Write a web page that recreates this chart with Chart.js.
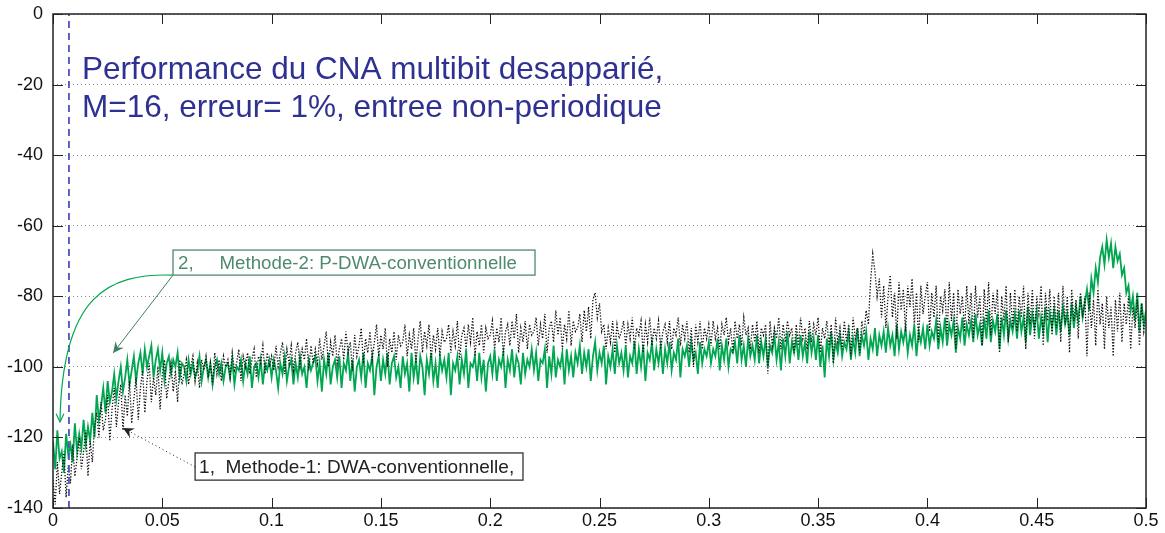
<!DOCTYPE html>
<html>
<head>
<meta charset="utf-8">
<script src="https://cdn.jsdelivr.net/npm/chart.js@4.4.1/dist/chart.umd.min.js"></script>
<style>
  html, body { margin: 0; padding: 0; background: #fff; }
  #wrap { width: 1165px; height: 533px; }
</style>
</head>
<body>
<div id="wrap"><canvas id="psd"></canvas></div>
<script>
// normalised frequency grid (fs = 1), one sample every 0.001
const FREQ_STEP = 0.001;

// Methode-1 : DWA conventionnelle (dB), 20 bins per row
const dwaConv = [
  -132,-139,-127,-136,-130,-124,-137,-128,-133,-122,-131,-126,-120,-129,-124,-118,-131,-121,-127,-117,
  -113,-120,-110,-118,-115,-108,-121,-112,-106,-117,-110,-105,-118,-108,-114,-104,-116,-109,-103,-115,
  -106,-101,-113,-104,-99,-110,-103,-108,-100,-112,-102,-98,-109,-104,-99,-107,-101,-110,-98,-105,
  -102,-98,-105,-100,-97,-104,-99,-106,-98,-101,-97,-103,-99,-105,-96,-102,-98,-104,-97,-100,
  -98,-103,-96,-101,-99,-95,-104,-97,-100,-96,-102,-98,-95,-103,-97,-99,-94,-102,-96,-100,
  -97,-101,-94,-100,-96,-93,-102,-95,-99,-94,-101,-96,-93,-100,-95,-98,-92,-101,-94,-99,
  -95,-99,-92,-98,-94,-90,-100,-93,-97,-91,-99,-95,-92,-98,-90,-96,-93,-101,-91,-97,
  -94,-89,-99,-92,-96,-90,-98,-93,-88,-97,-91,-95,-89,-100,-92,-96,-90,-98,-91,-94,
  -93,-88,-97,-91,-95,-89,-99,-92,-87,-96,-90,-94,-88,-98,-91,-95,-89,-97,-90,-93,
  -92,-88,-96,-90,-94,-87,-98,-91,-89,-95,-88,-93,-86,-97,-90,-94,-88,-96,-89,-92,
  -91,-87,-95,-89,-93,-86,-97,-90,-88,-94,-87,-92,-85,-96,-89,-93,-87,-95,-88,-91,
  -90,-86,-94,-88,-92,-85,-96,-89,-87,-93,-84,-91,-86,-95,-88,-92,-84,-94,-87,-90,
  -89,-85,-93,-84,-90,-83,-92,-81,-79,-86,-82,-90,-88,-95,-89,-93,-87,-96,-88,-92,
  -90,-87,-94,-88,-92,-86,-95,-89,-91,-87,-96,-88,-93,-86,-94,-89,-92,-87,-95,-90,
  -88,-93,-87,-95,-89,-91,-86,-94,-88,-92,-87,-96,-89,-100,-88,-93,-87,-95,-89,-92,
  -88,-94,-87,-92,-89,-95,-88,-91,-86,-93,-89,-96,-87,-92,-88,-94,-86,-91,-89,-95,
  -88,-93,-87,-96,-89,-91,-88,-102,-87,-94,-89,-92,-86,-95,-88,-93,-87,-91,-89,-96,
  -88,-94,-86,-92,-89,-95,-87,-93,-88,-91,-86,-96,-89,-92,-87,-94,-88,-99,-86,-93,
  -89,-95,-87,-93,-88,-97,-86,-92,-89,-96,-87,-91,-84,-88,-76,-68,-73,-80,-75,-86,
  -77,-89,-80,-74,-86,-79,-92,-76,-84,-78,-90,-77,-83,-75,-88,-79,-93,-77,-85,-80,
  -76,-90,-79,-86,-77,-93,-80,-84,-78,-91,-76,-87,-79,-95,-78,-85,-80,-90,-77,-88,
  -79,-92,-77,-86,-80,-94,-78,-88,-76,-91,-79,-85,-78,-96,-80,-87,-77,-93,-79,-89,
  -78,-90,-80,-86,-77,-95,-79,-88,-78,-92,-80,-85,-77,-94,-79,-87,-78,-91,-80,-89,
  -79,-93,-77,-88,-80,-96,-78,-87,-81,-92,-79,-86,-80,-97,-79,-89,-81,-94,-78,-88,
  -82,-95,-80,-89,-83,-97,-81,-90,-79,-93,-82,-88,-80,-95,-83,-89,-81,-94,-82,-90,
  -86
];

// Methode-2 : P-DWA conventionnelle (dB), 20 bins per row
const pdwaConv = [
  -121,-129,-118,-126,-124,-130,-119,-125,-122,-127,-116,-124,-119,-123,-115,-122,-117,-121,-113,-120,
  -108,-115,-111,-106,-113,-104,-110,-107,-102,-109,-104,-100,-107,-103,-98,-105,-101,-97,-104,-99,
  -96,-102,-95,-100,-97,-94,-103,-98,-95,-101,-96,-104,-99,-97,-102,-98,-100,-96,-103,-99,
  -100,-104,-98,-102,-99,-103,-101,-97,-104,-100,-98,-103,-99,-105,-100,-98,-102,-99,-104,-100,
  -99,-103,-98,-105,-100,-101,-98,-104,-99,-102,-97,-106,-100,-99,-103,-98,-105,-99,-101,-98,
  -103,-98,-101,-106,-99,-102,-97,-104,-100,-98,-105,-99,-103,-97,-102,-100,-106,-98,-101,-99,
  -97,-104,-99,-107,-98,-102,-96,-105,-100,-98,-103,-97,-106,-99,-101,-96,-104,-98,-107,-100,
  -98,-103,-96,-106,-99,-101,-97,-108,-100,-97,-104,-98,-102,-96,-105,-99,-97,-103,-100,-106,
  -97,-102,-99,-107,-96,-103,-98,-105,-97,-100,-108,-98,-102,-96,-104,-99,-106,-97,-101,-98,
  -103,-96,-108,-99,-101,-97,-105,-98,-102,-95,-106,-99,-100,-97,-104,-96,-103,-98,-107,-99,
  -97,-102,-95,-104,-98,-100,-96,-106,-98,-101,-95,-103,-97,-99,-105,-96,-102,-98,-100,-95,
  -101,-96,-104,-98,-99,-95,-106,-97,-102,-94,-103,-98,-100,-96,-105,-95,-101,-97,-103,-96,
  -99,-94,-102,-96,-100,-95,-104,-97,-93,-101,-96,-99,-94,-105,-97,-100,-95,-102,-94,-99,
  -96,-101,-94,-103,-97,-99,-93,-102,-95,-100,-94,-104,-96,-98,-93,-101,-95,-99,-94,-102,
  -95,-99,-93,-101,-96,-98,-92,-103,-95,-97,-94,-100,-93,-98,-96,-102,-93,-99,-95,-97,
  -93,-99,-95,-97,-92,-101,-94,-98,-92,-100,-95,-96,-93,-99,-91,-98,-94,-100,-92,-97,
  -94,-98,-91,-99,-93,-97,-92,-100,-94,-96,-91,-98,-93,-101,-92,-97,-90,-99,-93,-96,
  -92,-98,-91,-97,-93,-99,-90,-96,-92,-98,-91,-100,-94,-103,-92,-97,-90,-98,-93,-96,
  -91,-97,-93,-95,-90,-98,-92,-96,-89,-97,-91,-94,-90,-98,-92,-95,-89,-97,-91,-94,
  -90,-96,-89,-94,-91,-97,-88,-95,-90,-93,-89,-96,-91,-94,-88,-97,-90,-93,-89,-95,
  -88,-94,-90,-92,-87,-95,-89,-93,-86,-94,-88,-91,-87,-96,-89,-92,-86,-94,-88,-91,
  -87,-93,-85,-91,-88,-94,-86,-92,-84,-93,-87,-90,-85,-95,-86,-91,-84,-92,-87,-90,
  -85,-92,-84,-90,-86,-93,-83,-91,-85,-89,-84,-92,-86,-90,-83,-93,-85,-89,-84,-91,
  -84,-90,-83,-88,-85,-91,-82,-89,-83,-87,-80,-86,-82,-78,-84,-75,-79,-72,-76,-69,
  -66,-71,-64,-69,-65,-72,-66,-70,-68,-74,-72,-79,-77,-84,-80,-87,-79,-90,-82,-88,
  -84
];

// band edge marker (dashed vertical)
const bandEdge = 0.0073;

const xTicks = [0, 0.05, 0.1, 0.15, 0.2, 0.25, 0.3, 0.35, 0.4, 0.45, 0.5];
const yTicks = [0, -20, -40, -60, -80, -100, -120, -140];

const titleLines = [
  "Performance du CNA multibit desapparié,",
  "M=16, erreur= 1%, entree non-periodique"
];
const label1 = "1,  Methode-1: DWA-conventionnelle,";
const label2 = "2,     Methode-2: P-DWA-conventionnelle";

const toPoints = (arr) => arr.map((v, i) => ({ x: +(i * FREQ_STEP).toFixed(4), y: v }));

const FONT = "'Liberation Sans', Arial, Helvetica, sans-serif";

// arrow head helper
function arrowHead(ctx, fromX, fromY, toX, toY, size, filled) {
  const a = Math.atan2(toY - fromY, toX - fromX);
  const s = 0.45;
  ctx.beginPath();
  ctx.moveTo(toX - size * Math.cos(a - s), toY - size * Math.sin(a - s));
  ctx.lineTo(toX, toY);
  ctx.lineTo(toX - size * Math.cos(a + s), toY - size * Math.sin(a + s));
  if (filled) {
    ctx.lineTo(toX - size * 0.6 * Math.cos(a), toY - size * 0.6 * Math.sin(a));
    ctx.closePath();
    ctx.fill();
  } else {
    ctx.stroke();
  }
}

// frame, inward ticks, title and the two labelled arrows
const decorations = {
  id: "decorations",
  afterDatasetsDraw(chart) {
    const { ctx, chartArea: ca, scales } = chart;
    const px = (v) => scales.x.getPixelForValue(v);
    const py = (v) => scales.y.getPixelForValue(v);
    ctx.save();

    // frame
    ctx.strokeStyle = "#222";
    ctx.lineWidth = 1.5;
    ctx.setLineDash([]);
    ctx.strokeRect(ca.left, ca.top, ca.right - ca.left, ca.bottom - ca.top);

    // inward ticks
    ctx.lineWidth = 1;
    ctx.beginPath();
    xTicks.forEach((t) => {
      const x = Math.round(px(t)) + 0.5;
      ctx.moveTo(x, ca.bottom); ctx.lineTo(x, ca.bottom - 10);
      ctx.moveTo(x, ca.top); ctx.lineTo(x, ca.top + 10);
    });
    yTicks.forEach((t) => {
      const y = Math.round(py(t)) + 0.5;
      ctx.moveTo(ca.left, y); ctx.lineTo(ca.left + 10, y);
      ctx.moveTo(ca.right, y); ctx.lineTo(ca.right - 10, y);
    });
    ctx.stroke();

    // title
    ctx.fillStyle = "#2e3192";
    ctx.font = "31.5px " + FONT;
    ctx.textBaseline = "alphabetic";
    ctx.fillText(titleLines[0], px(0.0133), py(-18.4));
    ctx.fillText(titleLines[1], px(0.0133), py(-29.2));

    // label 2 box + arrows
    const b2 = { l: px(0.0549), r: px(0.2205), t: py(-66.9), b: py(-74.0) };
    ctx.fillStyle = "#fff";
    ctx.fillRect(b2.l, b2.t, b2.r - b2.l, b2.b - b2.t);
    ctx.strokeStyle = "#4f8a6c";
    ctx.lineWidth = 1.3;
    ctx.strokeRect(b2.l, b2.t, b2.r - b2.l, b2.b - b2.t);
    ctx.fillStyle = "#4f8a6c";
    ctx.font = "18.7px " + FONT;
    ctx.textBaseline = "middle";
    ctx.fillText(label2, b2.l + 5, (b2.t + b2.b) / 2 + 1);

    // curved arrow towards the low-frequency end
    const c2 = { x: px(0.0032), y: py(-115.6) };
    ctx.strokeStyle = "#00a650";
    ctx.lineWidth = 1.2;
    ctx.beginPath();
    ctx.moveTo(b2.l, b2.b);
    ctx.bezierCurveTo(b2.l - 65, b2.b - 2, c2.x + 2, b2.b + 20, c2.x, c2.y);
    ctx.stroke();
    arrowHead(ctx, c2.x, c2.y - 20, c2.x, c2.y, 9, false);

    // straight arrow to the curve
    const s2 = { x: px(0.0275), y: py(-96.1) };
    ctx.strokeStyle = "#3f7f5f";
    ctx.fillStyle = "#3f7f5f";
    ctx.lineWidth = 1;
    ctx.beginPath();
    ctx.moveTo(b2.l, b2.b);
    ctx.lineTo(s2.x, s2.y);
    ctx.stroke();
    arrowHead(ctx, b2.l, b2.b, s2.x, s2.y, 12, true);

    // label 1 box + dotted arrow
    const b1 = { l: px(0.0650), r: px(0.2150), t: py(-124.4), b: py(-132.1) };
    ctx.fillStyle = "#fff";
    ctx.fillRect(b1.l, b1.t, b1.r - b1.l, b1.b - b1.t);
    ctx.strokeStyle = "#333";
    ctx.lineWidth = 1.3;
    ctx.strokeRect(b1.l, b1.t, b1.r - b1.l, b1.b - b1.t);
    ctx.fillStyle = "#222";
    ctx.font = "19px " + FONT;
    ctx.fillText(label1, b1.l + 4, (b1.t + b1.b) / 2 + 1);

    const t1 = { x: px(0.0320), y: py(-117.3) };
    ctx.strokeStyle = "#222";
    ctx.fillStyle = "#222";
    ctx.lineWidth = 1;
    ctx.setLineDash([1, 3]);
    ctx.beginPath();
    ctx.moveTo(b1.l, b1.t + 14);
    ctx.lineTo(t1.x, t1.y);
    ctx.stroke();
    ctx.setLineDash([]);
    arrowHead(ctx, b1.l, b1.t + 14, t1.x, t1.y, 12, true);

    ctx.restore();
  }
};

new Chart(document.getElementById("psd"), {
  type: "line",
  data: {
    datasets: [
      {
        label: "fb",
        data: [{ x: bandEdge, y: -140 }, { x: bandEdge, y: 0 }],
        borderColor: "#4f53bd",
        borderWidth: 1.8,
        borderDash: [7, 5],
        pointRadius: 0
      },
      {
        label: "Methode-1",
        data: toPoints(dwaConv),
        borderColor: "#111",
        borderWidth: 1.3,
        borderDash: [1.3, 1.7],
        pointRadius: 0,
        tension: 0
      },
      {
        label: "Methode-2",
        data: toPoints(pdwaConv),
        borderColor: "#00a650",
        borderWidth: 1.8,
        pointRadius: 0,
        tension: 0
      }
    ]
  },
  options: {
    responsive: true,
    maintainAspectRatio: false,
    animation: false,
    layout: { padding: { top: 14, right: 19, left: 0, bottom: 0 } },
    plugins: {
      legend: { display: false },
      tooltip: { enabled: false }
    },
    scales: {
      x: {
        type: "linear",
        min: 0,
        max: 0.5,
        afterBuildTicks: (s) => { s.ticks = xTicks.map((v) => ({ value: v })); },
        afterFit: (s) => { s.height = 25; },
        grid: { display: false, drawTicks: false },
        border: { display: false },
        ticks: {
          color: "#111",
          font: { family: FONT, size: 18 },
          padding: 2,
          maxRotation: 0,
          callback: (v) => String(+v.toFixed(2))
        }
      },
      y: {
        min: -140,
        max: 0,
        afterBuildTicks: (s) => { s.ticks = yTicks.map((v) => ({ value: v })); },
        afterFit: (s) => { s.width = 53; },
        grid: { color: "#8a8a8a", lineWidth: 1, drawTicks: true, tickLength: 8, tickColor: "rgba(0,0,0,0)" },
        border: { display: false, dash: [1, 3] },
        ticks: {
          color: "#111",
          font: { family: FONT, size: 18 },
          padding: 2
        }
      }
    }
  },
  plugins: [decorations]
});
</script>
</body>
</html>
